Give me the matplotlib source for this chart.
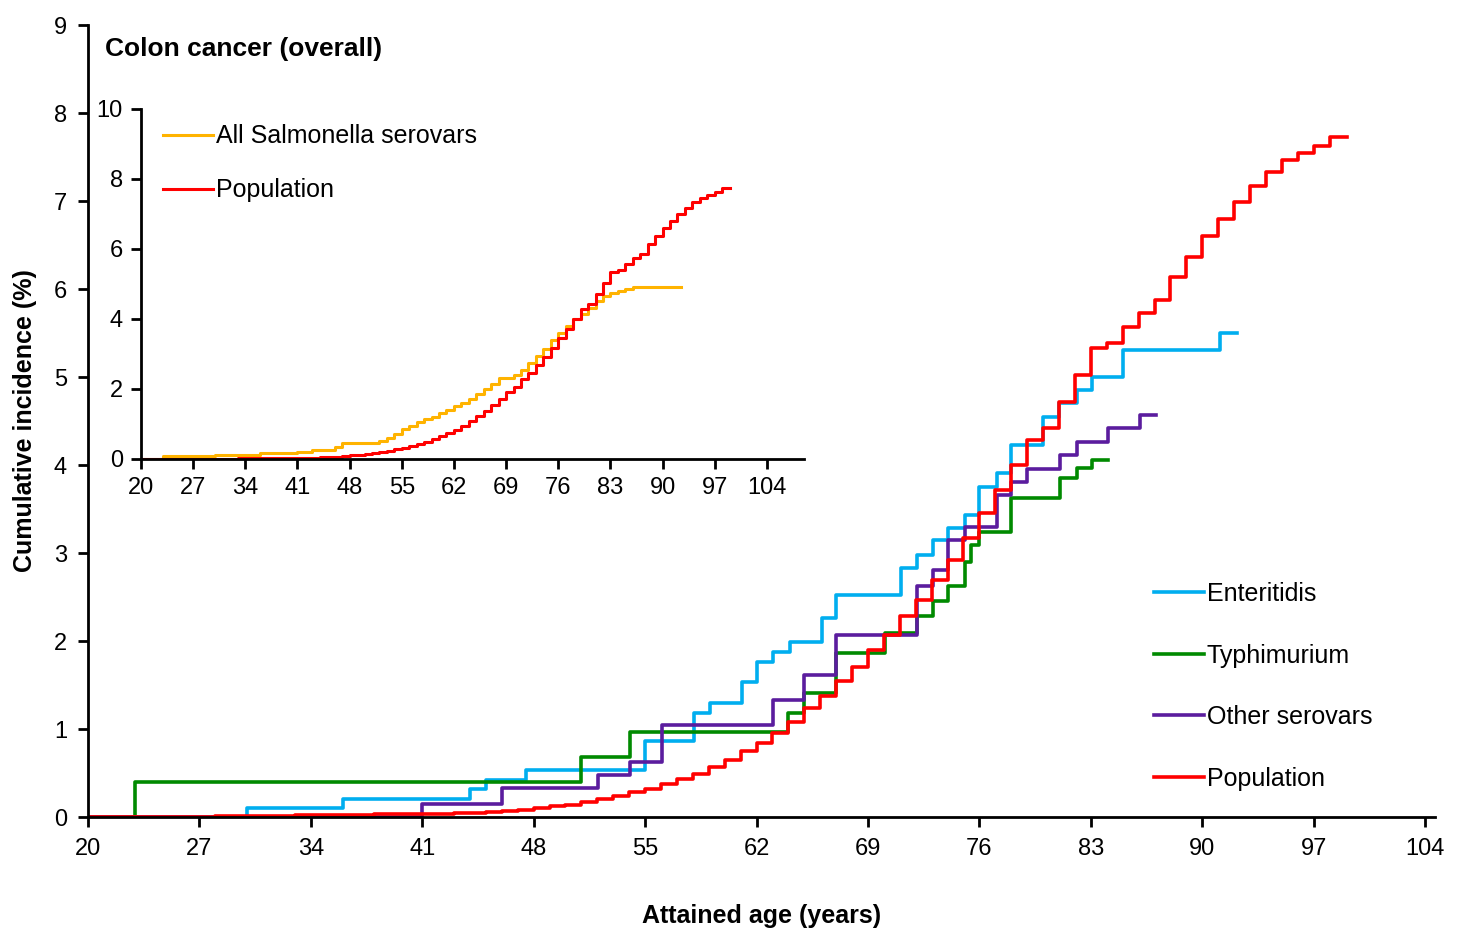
import matplotlib
matplotlib.use("Agg")
import matplotlib.pyplot as plt
import numpy as np

plt.rcParams['font.family'] = ['Liberation Sans', 'DejaVu Sans']

# Population (yearly values, held from age a to a+1); ends at 99
pop_ages = list(range(20, 99)) + [99.1]
pop_vals = [0,0,0,0,0,0,0,0,0.01,0.01,0.01,0.01,0.01,0.02,0.02,0.02,0.02,0.02,0.03,0.03,
            0.03,0.03,0.035,0.04,0.05,0.06,0.07,0.08,0.10,0.12,0.14,0.17,0.20,0.24,0.28,0.32,0.37,0.43,0.49,0.57,
            0.65,0.75,0.84,0.95,1.08,1.24,1.37,1.54,1.71,1.90,2.07,2.28,2.47,2.69,2.92,3.17,3.45,3.72,4.00,4.28,
            4.42,4.72,5.02,5.33,5.39,5.57,5.73,5.87,6.14,6.36,6.60,6.80,6.99,7.17,7.33,7.47,7.54,7.62,7.73]
pop_vals = pop_vals + [pop_vals[-1]]

ent_ages = [20, 30, 36, 44, 45, 47.5, 55, 58.1, 59.1, 61.06, 62, 63.05, 64.1, 66.1, 67, 71.1, 72.05, 73.1, 74,
            75.1, 76, 77.1, 78, 80, 81, 82.1, 83.05, 85, 91.1, 92.2]
ent_vals = [0, 0.1, 0.2, 0.32, 0.42, 0.53, 0.86, 1.18, 1.3, 1.53, 1.76, 1.88, 1.99, 2.26, 2.52, 2.83, 2.98, 3.15, 3.28,
            3.43, 3.75, 3.91, 4.23, 4.55, 4.7, 4.85, 5.0, 5.31, 5.5, 5.5]

typ_ages = [20, 22.95, 51.0, 54.05, 64.0, 65.0, 67.0, 70.06, 72.05, 73.1, 74, 75.1, 75.5, 76, 78, 81.05, 82.1, 83.05, 84.1]
typ_vals = [0, 0.4, 0.68, 0.97, 1.18, 1.41, 1.86, 2.09, 2.28, 2.45, 2.62, 2.9, 3.09, 3.24, 3.62, 3.85, 3.97, 4.06, 4.06]

oth_ages = [20, 41, 46.0, 52.05, 54.05, 56.05, 63.05, 65, 67, 72.05, 73.1, 74, 75.1, 77.1, 78, 79, 81.05, 82.1, 84.1, 86.1, 87.1]
oth_vals = [0, 0.15, 0.33, 0.48, 0.63, 1.05, 1.33, 1.61, 2.07, 2.62, 2.81, 3.15, 3.3, 3.66, 3.81, 3.96, 4.11, 4.26, 4.42, 4.57, 4.57]

sal_ages = [20, 23, 30, 36, 41, 43, 46, 47, 52, 53, 54, 55, 56, 57, 58, 59, 60, 61, 62, 63, 64, 65, 66, 67,
            68, 70, 71, 72, 73, 74, 75, 76, 77, 78, 79, 80, 81, 82, 83, 84, 85, 86, 92.5]
sal_vals = [0, 0.08, 0.12, 0.16, 0.2, 0.25, 0.35, 0.45, 0.5, 0.6, 0.7, 0.85, 0.95, 1.05, 1.15, 1.2, 1.3, 1.4, 1.5,
            1.6, 1.72, 1.85, 2.0, 2.15, 2.3, 2.4, 2.55, 2.75, 2.95, 3.15, 3.4, 3.6, 3.8, 4.0, 4.15, 4.3, 4.5,
            4.65, 4.75, 4.8, 4.85, 4.9, 4.9]

xticks = list(range(20, 105, 7))

C_ENT, C_TYP, C_OTH, C_POP, C_SAL = "#00AEEF", "#008A00", "#5B1C9E", "#FF0000", "#FFB300"

fig = plt.figure(figsize=(14.64, 9.3), dpi=100)
ax = fig.add_axes([0.060, 0.1215, 0.920, 0.8516])
lw = 2.6
ax.step(ent_ages, ent_vals, where="post", color=C_ENT, lw=lw, label="Enteritidis")
ax.step(typ_ages, typ_vals, where="post", color=C_TYP, lw=lw, label="Typhimurium")
ax.step(oth_ages, oth_vals, where="post", color=C_OTH, lw=lw, label="Other serovars")
ax.step(pop_ages, pop_vals, where="post", color=C_POP, lw=lw, label="Population")
ax.set_xlim(20, 104.6)
ax.set_ylim(0, 9)
ax.set_xticks(xticks)
ax.set_yticks(range(0, 10))
for s in ["top", "right"]:
    ax.spines[s].set_visible(False)
for s in ["left", "bottom"]:
    ax.spines[s].set_linewidth(2)
ax.tick_params(labelsize=17, width=2, length=7, pad=8)
ax.set_xlabel("Attained age (years)", fontsize=18, fontweight="bold", labelpad=32)
ax.set_ylabel("Cumulative incidence (%)", fontsize=18, fontweight="bold", labelpad=12)
ax.text(0.013, 0.985, "Colon cancer (overall)", transform=ax.transAxes, fontsize=19,
        fontweight="bold", va="top")
ax.legend(loc="lower left", bbox_to_anchor=(0.775, 0.005), frameon=False, fontsize=18,
          handlelength=2.0, handletextpad=0.1, labelspacing=1.5)

ins = fig.add_axes([0.0963, 0.5065, 0.453, 0.3763])
ins.step(sal_ages, sal_vals, where="post", color=C_SAL, lw=2.2, label="All Salmonella serovars")
ins.step(pop_ages, pop_vals, where="post", color=C_POP, lw=2.2, label="Population")
ins.set_xlim(20, 109)
ins.set_ylim(0, 10)
ins.set_xticks(xticks)
ins.set_yticks(range(0, 11, 2))
for s in ["top", "right"]:
    ins.spines[s].set_visible(False)
for s in ["left", "bottom"]:
    ins.spines[s].set_linewidth(2)
ins.tick_params(labelsize=17, width=2, length=7, pad=6)
ins.legend(loc="upper left", bbox_to_anchor=(0.0, 1.02), frameon=False, fontsize=18,
           handlelength=2.0, handletextpad=0.1, labelspacing=1.2)

fig.savefig("out.png", dpi=100)
